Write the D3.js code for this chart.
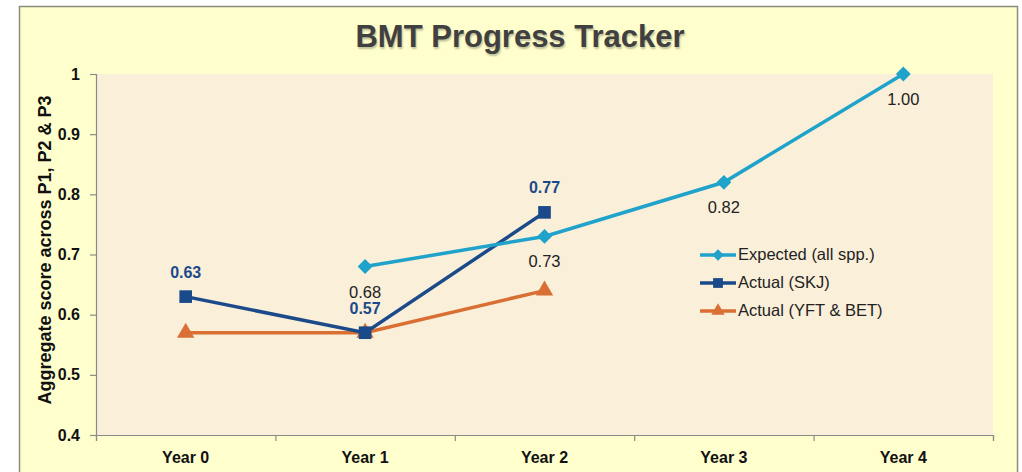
<!DOCTYPE html>
<html>
<head>
<meta charset="utf-8">
<script src="https://cdn.jsdelivr.net/npm/d3@7"></script>
<style>
  body { margin: 0; background: #fff; }
  svg { font-family: Arial, "Liberation Sans", sans-serif; }
</style>
</head>
<body>
<div id="graph"></div>
<script>
// chart data
var years = ["Year 0", "Year 1", "Year 2", "Year 3", "Year 4"];
var expected = [null, 0.68, 0.73, 0.82, 1.00];
var actualSKJ = [0.63, 0.57, 0.77, null, null];
var actualYFT = [0.57, 0.57, 0.64, null, null];
var yTicks = [0.4, 0.5, 0.6, 0.7, 0.8, 0.9, 1];
var seriesNames = ["Expected (all spp.)", "Actual (SKJ)", "Actual (YFT & BET)"];

var width = 1022;
var height = 472;
var plot = { left: 96, right: 993, top: 74, bottom: 435 };

var svg = d3.select('#graph')
  .append('svg')
  .attr('width', width)
  .attr('height', height);

// outer chart area
svg.append('rect')
  .attr('x', 19.5).attr('y', 6.5)
  .attr('width', 998).attr('height', 480)
  .attr('fill', '#FFFFCD')
  .attr('stroke', '#8c8c7c')
  .attr('stroke-width', 1.5);

// plot area
svg.append('rect')
  .attr('x', plot.left).attr('y', plot.top)
  .attr('width', plot.right - plot.left).attr('height', plot.bottom - plot.top)
  .attr('fill', '#FAEFD9');

var x = d3.scaleBand().domain(years).range([plot.left, plot.right]);
var y = d3.scaleLinear().domain([0.4, 1]).range([plot.bottom, plot.top]);
var cx = function(i) { return x(years[i]) + x.bandwidth() / 2; };

// title
svg.append('text')
  .attr('x', 520).attr('y', 39)
  .attr('text-anchor', 'middle')
  .attr('dominant-baseline', 'middle')
  .attr('font-size', 31).attr('font-weight', 'bold')
  .attr('fill', '#404040')
  .style('text-shadow', '1px 2px 2px rgba(0,0,0,0.25)')
  .text('BMT Progress Tracker');

// axes
var yAxis = svg.append('g')
  .attr('transform', 'translate(' + plot.left + ',0)')
  .call(d3.axisLeft(y).tickValues(yTicks).tickSize(6).tickPadding(10)
    .tickFormat(function(d) { return d === 1 ? '1' : d3.format('.1f')(d); }));
yAxis.selectAll('text')
  .attr('font-size', 16).attr('font-weight', 'bold').attr('fill', '#111')
  .attr('font-family', 'Arial, "Liberation Sans", sans-serif');

var xEdge = d3.scaleLinear().domain([0, years.length]).range([plot.left, plot.right]);
svg.append('g')
  .attr('transform', 'translate(0,' + plot.bottom + ')')
  .call(d3.axisBottom(xEdge).ticks(years.length).tickSize(6).tickFormat(''));
svg.append('g')
  .attr('transform', 'translate(0,' + plot.bottom + ')')
  .selectAll('text')
  .data(years)
  .enter()
  .append('text')
  .attr('x', function(d, i) { return cx(i); })
  .attr('y', 28)
  .attr('text-anchor', 'middle')
  .attr('font-size', 16).attr('font-weight', 'bold').attr('fill', '#111')
  .text(function(d) { return d; });

svg.selectAll('.domain, .tick line').attr('stroke', '#8a8a8a').attr('stroke-width', 1.2);

// y axis title
svg.append('text')
  .attr('transform', 'translate(46,250) rotate(-90)')
  .attr('text-anchor', 'middle')
  .attr('dominant-baseline', 'middle')
  .attr('font-size', 18).attr('font-weight', 'bold').attr('fill', '#111')
  .text('Aggregate score across P1, P2 & P3');

var line = d3.line()
  .defined(function(d) { return d != null; })
  .x(function(d, i) { return cx(i); })
  .y(function(d) { return y(d); });

var series = [
  { name: seriesNames[0], values: expected, color: '#1FA3CB', marker: d3.symbolSquare, size: 110, rot: 45 },
  { name: seriesNames[1], values: actualSKJ, color: '#1B4A8A', marker: d3.symbolSquare, size: 160, rot: 0 },
  { name: seriesNames[2], values: actualYFT, color: '#DA6F33', marker: d3.symbolTriangle, size: 130, rot: 0 }
];

// draw in reverse so expected line sits on top like the reference
[series[2], series[1], series[0]].forEach(function(s) {
  svg.append('path')
    .datum(s.values)
    .attr('d', line)
    .attr('fill', 'none')
    .attr('stroke', s.color)
    .attr('stroke-width', 3.5);
  svg.selectAll(null)
    .data(s.values.map(function(v, i) { return { v: v, i: i }; }).filter(function(d) { return d.v != null; }))
    .enter()
    .append('path')
    .attr('d', d3.symbol().type(s.marker).size(s.size))
    .attr('transform', function(d) { return 'translate(' + cx(d.i) + ',' + y(d.v) + ') rotate(' + s.rot + ')'; })
    .attr('fill', s.color);
});

// data labels
svg.selectAll(null)
  .data(expected.map(function(v, i) { return { v: v, i: i }; }).filter(function(d) { return d.v != null; }))
  .enter()
  .append('text')
  .attr('x', function(d) { return cx(d.i); })
  .attr('y', function(d) { return y(d.v) + 31; })
  .attr('text-anchor', 'middle')
  .attr('font-size', 16.5).attr('fill', '#222')
  .text(function(d) { return d3.format('.2f')(d.v); });

svg.selectAll(null)
  .data(actualSKJ.map(function(v, i) { return { v: v, i: i }; }).filter(function(d) { return d.v != null; }))
  .enter()
  .append('text')
  .attr('x', function(d) { return cx(d.i); })
  .attr('y', function(d) { return y(d.v) - 19; })
  .attr('text-anchor', 'middle')
  .attr('font-size', 16).attr('font-weight', 'bold').attr('fill', '#1B4A8A')
  .text(function(d) { return d3.format('.2f')(d.v); });

// legend
var legend = svg.append('g').attr('transform', 'translate(700,255)');
series.forEach(function(s, k) {
  var g = legend.append('g').attr('transform', 'translate(0,' + (k * 28) + ')');
  g.append('line')
    .attr('x1', 0).attr('x2', 36).attr('y1', 0).attr('y2', 0)
    .attr('stroke', s.color).attr('stroke-width', 3.5);
  g.append('path')
    .attr('d', d3.symbol().type(s.marker).size(s.size * 0.6))
    .attr('transform', 'translate(18,0) rotate(' + s.rot + ')')
    .attr('fill', s.color);
  g.append('text')
    .attr('x', 38).attr('y', 1)
    .attr('dominant-baseline', 'middle')
    .attr('font-size', 16.5).attr('fill', '#222')
    .text(s.name);
});
</script>
</body>
</html>
